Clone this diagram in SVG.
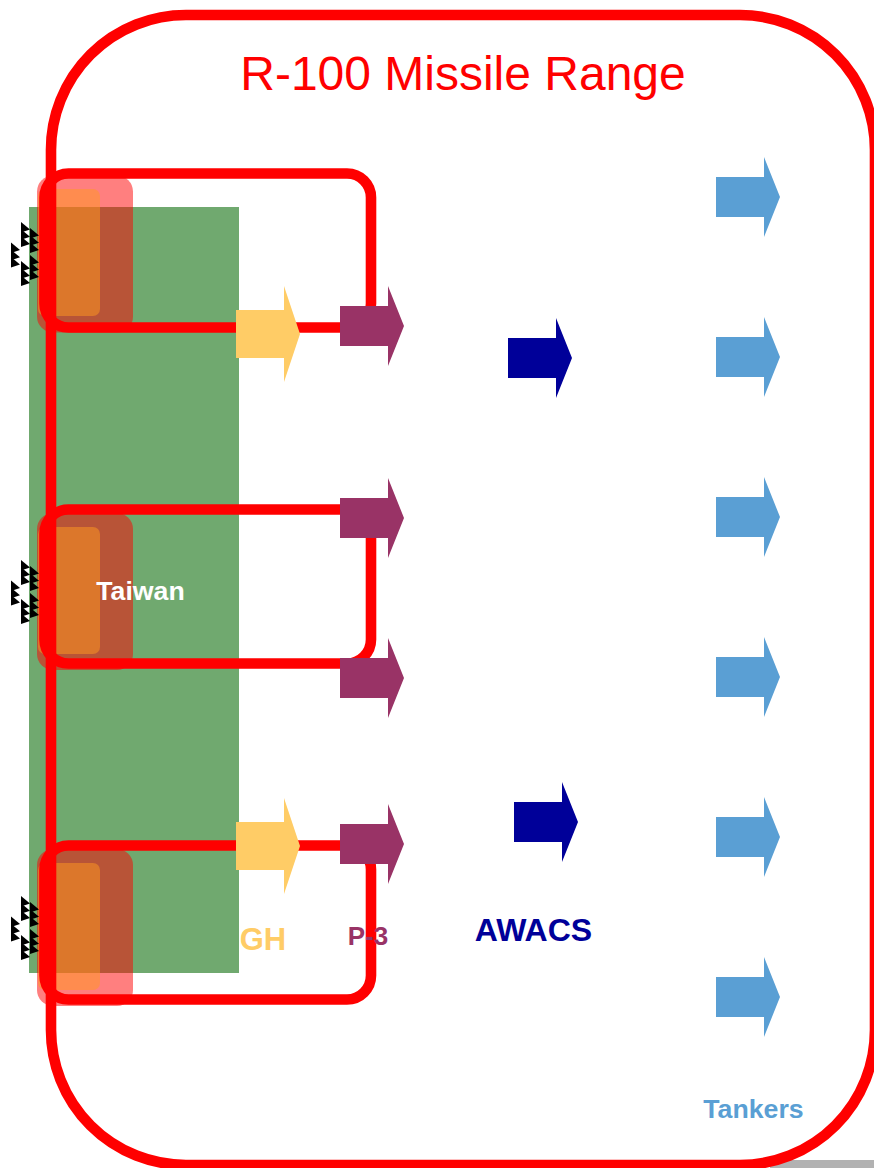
<svg xmlns="http://www.w3.org/2000/svg" width="874" height="1168" viewBox="0 0 874 1168">
<style>
text{font-family:"Liberation Sans",Arial,sans-serif;font-weight:bold;text-anchor:middle}
.pink{fill:#ff0000;fill-opacity:.5}
.orange{fill:#ff9920;fill-opacity:.5}
.line{fill:none;stroke:#ff0000;stroke-width:10.6}
.gh{fill:#ffcc66}.p3{fill:#993366}.aw{fill:#000099}.tk{fill:#5a9fd4}
</style>
<defs>
<path id="gh" d="M0 -24H48V-48L64 0L48 48V24H0Z"/>
<path id="ar" d="M0 -20H48V-40L64 0L48 40V20H0Z"/>
<path id="tri" d="M0 0L9 7.500L0 10.500Z"/>
<g id="col"><use href="#tri"/><use href="#tri" y="7.300"/><use href="#tri" y="14.600"/></g>
<g id="ships">
<use href="#col" x="21" y="222"/><use href="#col" x="21" y="261"/>
<use href="#col" x="30" y="228"/><use href="#col" x="30" y="255"/>
<use href="#col" x="11" y="242.500"/>
</g>
</defs>
<rect id="shadow" x="770" y="1160" width="104" height="8" fill="#b2b2b2"/>
<rect id="taiwan-land" x="29" y="207" width="210" height="766" fill="#70a96f"/>
<g id="zone-north"><rect class="pink" x="37" y="175.500" width="96" height="157" rx="16"/><rect class="orange" x="38" y="189" width="62" height="127" rx="7"/></g>
<g id="zone-central"><rect class="pink" x="37" y="513" width="96" height="157" rx="16"/><rect class="orange" x="38" y="527" width="62" height="127" rx="7"/></g>
<g id="zone-south"><rect class="pink" x="37" y="849" width="96" height="157" rx="16"/><rect class="orange" x="38" y="863" width="62" height="127" rx="7"/></g>
<g id="ships-north"><use href="#ships"/></g>
<g id="ships-central"><use href="#ships" y="338"/></g>
<g id="ships-south"><use href="#ships" y="674"/></g>
<g id="connectors">
<rect class="line" x="51" y="15" width="824" height="1150" rx="135"/>
<rect class="line" x="44.500" y="173.500" width="326.500" height="154" rx="24"/>
<rect class="line" x="44.500" y="509.500" width="326.500" height="154" rx="24"/>
<rect class="line" x="44.500" y="845.500" width="326.500" height="154" rx="24"/>
</g>
<g id="gh-1" class="gh"><use href="#gh" x="236" y="334"/></g>
<g id="gh-2" class="gh"><use href="#gh" x="236" y="846"/></g>
<g id="p3-1" class="p3"><use href="#ar" x="340" y="326"/></g>
<g id="p3-2" class="p3"><use href="#ar" x="340" y="518"/></g>
<g id="p3-3" class="p3"><use href="#ar" x="340" y="678"/></g>
<g id="p3-4" class="p3"><use href="#ar" x="340" y="844"/></g>
<g id="awacs-1" class="aw"><use href="#ar" x="508" y="358"/></g>
<g id="awacs-2" class="aw"><use href="#ar" x="514" y="822"/></g>
<g id="tanker-1" class="tk"><use href="#ar" x="716" y="197"/></g>
<g id="tanker-2" class="tk"><use href="#ar" x="716" y="357"/></g>
<g id="tanker-3" class="tk"><use href="#ar" x="716" y="517"/></g>
<g id="tanker-4" class="tk"><use href="#ar" x="716" y="677"/></g>
<g id="tanker-5" class="tk"><use href="#ar" x="716" y="837"/></g>
<g id="tanker-6" class="tk"><use href="#ar" x="716" y="997"/></g>
<text x="463" y="90" font-size="48" fill="#ff0000" style="font-weight:normal">R-100 Missile Range</text>
<text x="140.500" y="600" font-size="26.700" fill="#ffffff">Taiwan</text>
<text x="263" y="950" font-size="31" fill="#ffcc66">GH</text>
<text x="368" y="945" font-size="26" fill="#993366">P-3</text>
<text x="533.500" y="941" font-size="32" fill="#000099">AWACS</text>
<text x="753.500" y="1118" font-size="26.700" fill="#5a9fd4">Tankers</text>
</svg>
